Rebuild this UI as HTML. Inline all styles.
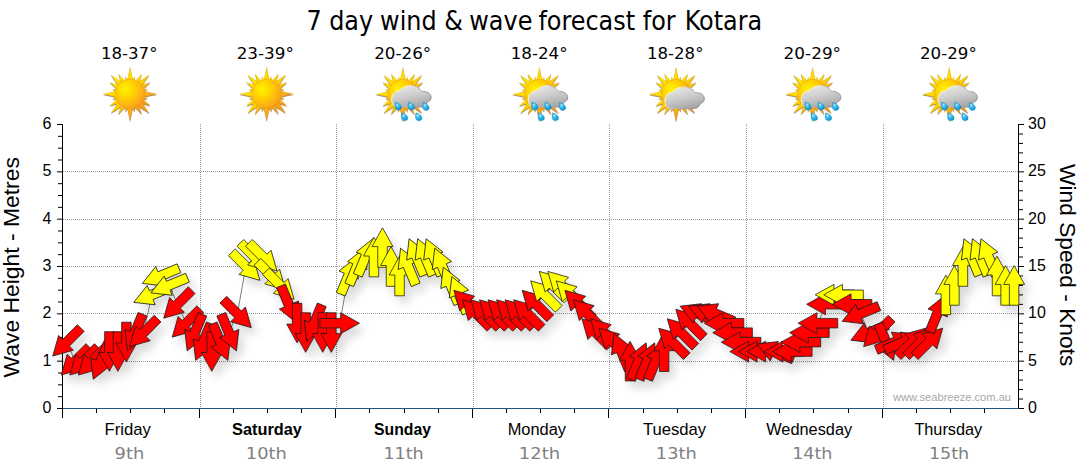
<!DOCTYPE html>
<html><head><meta charset="utf-8"><title>7 day wind &amp; wave forecast for Kotara</title>
<style>html,body{margin:0;padding:0;background:#fff;}svg{display:block}</style></head><body>
<svg width="1080" height="475" viewBox="0 0 1080 475">
<defs>
<radialGradient id="sunG" cx="0.34" cy="0.33" r="0.75">
 <stop offset="0" stop-color="#FFF200"/><stop offset="0.4" stop-color="#FFD200"/><stop offset="0.8" stop-color="#FBAE17"/><stop offset="1" stop-color="#F7941D"/>
</radialGradient>
<linearGradient id="rayG" x1="0.1" y1="0.1" x2="0.9" y2="0.9">
 <stop offset="0" stop-color="#FFE800"/><stop offset="0.45" stop-color="#FFD400"/><stop offset="0.75" stop-color="#F9A51A"/><stop offset="1" stop-color="#F28E1E"/>
</linearGradient>
<linearGradient id="cloudG" x1="0.2" y1="0" x2="0.6" y2="1">
 <stop offset="0" stop-color="#E9E9E9"/><stop offset="0.5" stop-color="#CDCDCD"/><stop offset="1" stop-color="#A6A6A6"/>
</linearGradient>
<linearGradient id="cloudS" x1="0" y1="0" x2="1" y2="0.4">
 <stop offset="0" stop-color="#FFF2A0"/><stop offset="0.3" stop-color="#FFF6C0"/><stop offset="0.55" stop-color="#B8B8B8"/><stop offset="1" stop-color="#8E8E8E"/>
</linearGradient>
<radialGradient id="dropG" cx="0.35" cy="0.35" r="0.75">
 <stop offset="0" stop-color="#BDEBFB"/><stop offset="0.35" stop-color="#3CBCEE"/><stop offset="0.8" stop-color="#119FDB"/><stop offset="1" stop-color="#0A7FB8"/>
</radialGradient>
<filter id="sh" x="-5%" y="-20%" width="110%" height="150%">
 <feGaussianBlur in="SourceAlpha" stdDeviation="4.8"/>
 <feOffset dx="5" dy="7" result="b"/>
 <feComponentTransfer><feFuncA type="linear" slope="0.15"/></feComponentTransfer>
 <feMerge><feMergeNode/><feMergeNode in="SourceGraphic"/></feMerge>
</filter>
<filter id="ish" x="-20%" y="-20%" width="140%" height="140%">
 <feGaussianBlur in="SourceAlpha" stdDeviation="0.6"/>
 <feOffset dx="0.4" dy="0.6"/>
 <feFlood flood-color="#6b3d00"/><feComposite operator="in" in2="SourceAlpha"/>
 <feGaussianBlur stdDeviation="0.6"/><feOffset dx="0.4" dy="0.6"/>
 <feComponentTransfer><feFuncA type="linear" slope="0.6"/></feComponentTransfer>
 <feMerge><feMergeNode/><feMergeNode in="SourceGraphic"/></feMerge>
</filter>

<g id="sun" filter="url(#ish)"><path d="M2.90 -13.80Q1.30 -19.61 0.00 -26.70Q-1.30 -19.61 -2.90 -13.80ZM4.83 -12.99Q4.61 -14.96 4.63 -17.29Q3.48 -15.26 2.32 -13.67ZM8.89 -10.80Q9.91 -15.10 11.60 -20.09Q8.12 -16.13 4.91 -13.10ZM11.67 -7.85Q14.72 -13.00 18.88 -18.88Q13.00 -14.72 7.85 -11.67ZM13.10 -4.91Q16.13 -8.12 20.09 -11.60Q15.10 -9.91 10.80 -8.89ZM13.67 -2.32Q15.26 -3.48 17.29 -4.63Q14.96 -4.61 12.99 -4.83ZM13.80 2.90Q19.61 1.30 26.70 -0.00Q19.61 -1.31 13.80 -2.90ZM12.99 4.83Q14.96 4.61 17.29 4.63Q15.26 3.48 13.67 2.32ZM10.80 8.89Q15.10 9.91 20.09 11.60Q16.13 8.12 13.10 4.91ZM7.85 11.67Q13.00 14.72 18.88 18.88Q14.72 13.00 11.67 7.85ZM4.91 13.10Q8.12 16.13 11.60 20.09Q9.91 15.10 8.89 10.80ZM2.32 13.67Q3.48 15.26 4.63 17.29Q4.61 14.96 4.83 12.99ZM-2.90 13.80Q-1.30 19.61 0.00 26.70Q1.31 19.61 2.90 13.80ZM-4.83 12.99Q-4.61 14.96 -4.63 17.29Q-3.48 15.26 -2.32 13.67ZM-8.89 10.80Q-9.91 15.10 -11.60 20.09Q-8.12 16.13 -4.91 13.10ZM-11.67 7.85Q-14.72 13.00 -18.88 18.88Q-13.00 14.72 -7.85 11.67ZM-13.10 4.91Q-16.13 8.12 -20.09 11.60Q-15.10 9.91 -10.80 8.89ZM-13.67 2.32Q-15.26 3.48 -17.29 4.63Q-14.96 4.61 -12.99 4.83ZM-13.80 -2.90Q-19.61 -1.30 -26.70 0.00Q-19.61 1.31 -13.80 2.90ZM-12.99 -4.83Q-14.96 -4.61 -17.29 -4.63Q-15.26 -3.48 -13.67 -2.32ZM-10.80 -8.89Q-15.10 -9.91 -20.09 -11.60Q-16.13 -8.12 -13.10 -4.91ZM-7.85 -11.67Q-13.00 -14.72 -18.88 -18.88Q-14.72 -13.00 -11.67 -7.85ZM-4.91 -13.10Q-8.12 -16.13 -11.60 -20.09Q-9.91 -15.10 -8.89 -10.80ZM-2.32 -13.67Q-3.48 -15.26 -4.63 -17.29Q-4.61 -14.96 -4.83 -12.99Z" fill="url(#rayG)" stroke="#B8860B" stroke-width="0.35" stroke-opacity="0.55"/><circle r="14.8" fill="url(#sunG)" stroke="#E8920F" stroke-width="0.5" stroke-opacity="0.7"/></g>
<g id="cloud"><path d="M-5.5 12.8 C-9.2 12.8 -11.2 9.6 -11.2 5 C-11.2 0.4 -8.4 -3.2 -4.6 -3.4 C-3.6 -3.5 -2.4 -4.8 -1.2 -5.6 C1.2 -7.6 4.2 -8.7 7.6 -8.7 C12.2 -8.7 15.8 -6.8 17.6 -4.4 C18.6 -3.2 19.8 -2.9 21.2 -2.8 C25.2 -2.5 28.2 0 28.2 3.2 C28.2 5.6 26.6 7.2 24.2 7.8 C23.4 10.8 21.2 12.8 18 12.8 Z" fill="url(#cloudG)" stroke="url(#cloudS)" stroke-width="1"/></g>
<path id="drop" d="M-2.7 -3.9 C-0.6 -3.5 3.3 -1.4 3.3 1.3 C3.3 3 1.9 4.1 0.3 4.1 C-1.6 4.1 -3 2.8 -3.1 0.9 C-3.2 -0.8 -2.9 -2.6 -2.7 -3.9Z" fill="url(#dropG)" stroke="#0C78AE" stroke-width="0.35"/>
<path id="ar" d="M0 -19.7L10.45 -0.9L4.75 -0.9L4.75 19.9L-4.75 19.9L-4.75 -0.9L-10.45 -0.9Z"/>
</defs>
<rect width="1080" height="475" fill="#fff"/>
<text transform="translate(0 29.6) scale(0.985 1)" font-family="'DejaVu Sans Condensed', 'DejaVu Sans', sans-serif" font-size="27" font-stretch="condensed" fill="#000"><tspan x="311.20">7</tspan> <tspan x="334.21">day</tspan> <tspan x="385.89">wind</tspan> <tspan x="450.97">&amp;</tspan> <tspan x="476.42">wave</tspan> <tspan x="546.62">forecast</tspan> <tspan x="652.62">for</tspan> <tspan x="695.09">Kotara</tspan></text>
<text transform="translate(101.05 58.6) scale(1.0754 1)" font-family="'DejaVu Sans', sans-serif" font-size="15.4" fill="#000">18-37°</text>
<use href="#sun" x="130.1" y="94"/>
<text transform="translate(236.67 58.6) scale(1.0909 1)" font-family="'DejaVu Sans', sans-serif" font-size="15.4" fill="#000">23-39°</text>
<use href="#sun" x="266.7" y="94"/>
<text transform="translate(374.17 58.6) scale(1.0888 1)" font-family="'DejaVu Sans', sans-serif" font-size="15.4" fill="#000">20-26°</text>
<use href="#sun" x="402.9" y="94.2"/>
<use href="#cloud" x="402.9" y="94.3"/>
<use href="#drop" x="398.1" y="106.0"/>
<use href="#drop" x="411.3" y="106.0"/>
<use href="#drop" x="425.8" y="106.4"/>
<use href="#drop" x="404.5" y="116.7"/>
<use href="#drop" x="418.6" y="116.7"/>
<text transform="translate(510.64 58.6) scale(1.0856 1)" font-family="'DejaVu Sans', sans-serif" font-size="15.4" fill="#000">18-24°</text>
<use href="#sun" x="539.5" y="94.2"/>
<use href="#cloud" x="539.5" y="94.3"/>
<use href="#drop" x="534.7" y="106.0"/>
<use href="#drop" x="547.9" y="106.0"/>
<use href="#drop" x="562.4" y="106.4"/>
<use href="#drop" x="541.1" y="116.7"/>
<use href="#drop" x="555.2" y="116.7"/>
<text transform="translate(647.05 58.6) scale(1.0754 1)" font-family="'DejaVu Sans', sans-serif" font-size="15.4" fill="#000">18-28°</text>
<use href="#sun" x="676.1" y="94.2"/>
<use href="#cloud" x="676.1" y="95.6"/>
<text transform="translate(783.56 58.6) scale(1.0969 1)" font-family="'DejaVu Sans', sans-serif" font-size="15.4" fill="#000">20-29°</text>
<use href="#sun" x="812.6" y="94.2"/>
<use href="#cloud" x="812.6" y="94.3"/>
<use href="#drop" x="807.9" y="106.0"/>
<use href="#drop" x="821.0" y="106.0"/>
<use href="#drop" x="835.5" y="106.4"/>
<use href="#drop" x="814.2" y="116.7"/>
<use href="#drop" x="828.4" y="116.7"/>
<text transform="translate(919.98 58.6) scale(1.0828 1)" font-family="'DejaVu Sans', sans-serif" font-size="15.4" fill="#000">20-29°</text>
<use href="#sun" x="949.2" y="94.2"/>
<use href="#cloud" x="949.2" y="94.3"/>
<use href="#drop" x="944.4" y="106.0"/>
<use href="#drop" x="957.6" y="106.0"/>
<use href="#drop" x="972.1" y="106.4"/>
<use href="#drop" x="950.8" y="116.7"/>
<use href="#drop" x="964.9" y="116.7"/>
<path d="M200.5 124V408.5M336.5 124V408.5M473.5 124V408.5M609.5 124V408.5M746.5 124V408.5M883.5 124V408.5" stroke="#9a9a9a" stroke-width="1" stroke-dasharray="1 1" fill="none" shape-rendering="crispEdges"/>
<path d="M63 361.5H1018M63 313.5H1018M63 266.5H1018M63 219.5H1018M63 171.5H1018" stroke="#9a9a9a" stroke-width="1" stroke-dasharray="1 1" fill="none" shape-rendering="crispEdges"/>
<path d="M62.5 124.0V418.0" stroke="#000" stroke-width="1" fill="none" shape-rendering="crispEdges"/>
<path d="M57.0 408.50H62.5M58.0 396.67H62.5M58.0 384.83H62.5M58.0 373.00H62.5M57.0 361.17H62.5M58.0 349.33H62.5M58.0 337.50H62.5M58.0 325.67H62.5M57.0 313.83H62.5M58.0 302.00H62.5M58.0 290.17H62.5M58.0 278.33H62.5M57.0 266.50H62.5M58.0 254.67H62.5M58.0 242.83H62.5M58.0 231.00H62.5M57.0 219.17H62.5M58.0 207.33H62.5M58.0 195.50H62.5M58.0 183.67H62.5M57.0 171.83H62.5M58.0 160.00H62.5M58.0 148.17H62.5M58.0 136.33H62.5M57.0 124.50H62.5" stroke="#000" stroke-width="1" fill="none"/>
<text x="51.5" y="413.0" text-anchor="end" font-family="'Liberation Sans', sans-serif" font-size="16" fill="#000">0</text>
<text x="51.5" y="365.7" text-anchor="end" font-family="'Liberation Sans', sans-serif" font-size="16" fill="#000">1</text>
<text x="51.5" y="318.3" text-anchor="end" font-family="'Liberation Sans', sans-serif" font-size="16" fill="#000">2</text>
<text x="51.5" y="271.0" text-anchor="end" font-family="'Liberation Sans', sans-serif" font-size="16" fill="#000">3</text>
<text x="51.5" y="223.7" text-anchor="end" font-family="'Liberation Sans', sans-serif" font-size="16" fill="#000">4</text>
<text x="51.5" y="176.3" text-anchor="end" font-family="'Liberation Sans', sans-serif" font-size="16" fill="#000">5</text>
<text x="51.5" y="129.0" text-anchor="end" font-family="'Liberation Sans', sans-serif" font-size="16" fill="#000">6</text>
<path d="M1018.5 124.0V409.0" stroke="#000" stroke-width="1" fill="none" shape-rendering="crispEdges"/>
<path d="M1018.5 408.50H1024.0M1018.5 399.03H1023.0M1018.5 389.57H1023.0M1018.5 380.10H1023.0M1018.5 370.63H1023.0M1018.5 361.17H1024.0M1018.5 351.70H1023.0M1018.5 342.23H1023.0M1018.5 332.77H1023.0M1018.5 323.30H1023.0M1018.5 313.83H1024.0M1018.5 304.37H1023.0M1018.5 294.90H1023.0M1018.5 285.43H1023.0M1018.5 275.97H1023.0M1018.5 266.50H1024.0M1018.5 257.03H1023.0M1018.5 247.57H1023.0M1018.5 238.10H1023.0M1018.5 228.63H1023.0M1018.5 219.17H1024.0M1018.5 209.70H1023.0M1018.5 200.23H1023.0M1018.5 190.77H1023.0M1018.5 181.30H1023.0M1018.5 171.83H1024.0M1018.5 162.37H1023.0M1018.5 152.90H1023.0M1018.5 143.43H1023.0M1018.5 133.97H1023.0M1018.5 124.50H1024.0" stroke="#000" stroke-width="1" fill="none"/>
<text x="1028" y="413.0" font-family="'Liberation Sans', sans-serif" font-size="16" fill="#000">0</text>
<text x="1028" y="365.7" font-family="'Liberation Sans', sans-serif" font-size="16" fill="#000">5</text>
<text x="1028" y="318.3" font-family="'Liberation Sans', sans-serif" font-size="16" fill="#000">10</text>
<text x="1028" y="271.0" font-family="'Liberation Sans', sans-serif" font-size="16" fill="#000">15</text>
<text x="1028" y="223.7" font-family="'Liberation Sans', sans-serif" font-size="16" fill="#000">20</text>
<text x="1028" y="176.3" font-family="'Liberation Sans', sans-serif" font-size="16" fill="#000">25</text>
<text x="1028" y="129.0" font-family="'Liberation Sans', sans-serif" font-size="16" fill="#000">30</text>
<path d="M62.5 408.5H1018.5" stroke="#1F5582" stroke-width="1" fill="none" shape-rendering="crispEdges"/>
<path d="M96.5 408.5V413.0M130.5 408.5V413.0M164.5 408.5V413.0M199.5 408.5V418.0M233.5 408.5V413.0M267.5 408.5V413.0M301.5 408.5V413.0M335.5 408.5V418.0M369.5 408.5V413.0M404.5 408.5V413.0M438.5 408.5V413.0M472.5 408.5V418.0M506.5 408.5V413.0M540.5 408.5V413.0M574.5 408.5V413.0M608.5 408.5V418.0M643.5 408.5V413.0M677.5 408.5V413.0M711.5 408.5V413.0M745.5 408.5V418.0M779.5 408.5V413.0M813.5 408.5V413.0M848.5 408.5V413.0M882.5 408.5V418.0M916.5 408.5V413.0M950.5 408.5V413.0M984.5 408.5V413.0" stroke="#000" stroke-width="1" fill="none" shape-rendering="crispEdges"/>
<text transform="translate(892.99 400.6) scale(1.0126 1)" font-family="'Liberation Sans', sans-serif" font-size="11" fill="#a8a8a8">www.seabreeze.com.au</text>
<text transform="translate(104.58 434.5) scale(1.0435 1)" font-family="'Liberation Sans', sans-serif" font-size="16" fill="#000">Friday</text>
<text transform="translate(114.62 458.6) scale(1.0813 1)" font-family="'DejaVu Sans', sans-serif" font-size="16.6" fill="#808080">9th</text>
<text transform="translate(232.07 434.5) scale(1.0201 1)" font-family="'Liberation Sans', sans-serif" font-size="16" font-weight="bold" fill="#000">Saturday</text>
<text transform="translate(245.87 458.6) scale(1.0727 1)" font-family="'DejaVu Sans', sans-serif" font-size="16.6" fill="#808080">10th</text>
<text transform="translate(374.10 434.5) scale(0.9854 1)" font-family="'Liberation Sans', sans-serif" font-size="16" font-weight="bold" fill="#000">Sunday</text>
<text transform="translate(383.40 458.6) scale(1.0583 1)" font-family="'DejaVu Sans', sans-serif" font-size="16.6" fill="#808080">11th</text>
<text transform="translate(507.66 434.5) scale(1.0263 1)" font-family="'Liberation Sans', sans-serif" font-size="16" fill="#000">Monday</text>
<text transform="translate(518.86 458.6) scale(1.0798 1)" font-family="'DejaVu Sans', sans-serif" font-size="16.6" fill="#808080">12th</text>
<text transform="translate(642.88 434.5) scale(1.0406 1)" font-family="'Liberation Sans', sans-serif" font-size="16" fill="#000">Tuesday</text>
<text transform="translate(655.87 458.6) scale(1.0727 1)" font-family="'DejaVu Sans', sans-serif" font-size="16.6" fill="#808080">13th</text>
<text transform="translate(766.26 434.5) scale(1.0206 1)" font-family="'Liberation Sans', sans-serif" font-size="16" fill="#000">Wednesday</text>
<text transform="translate(792.15 458.6) scale(1.0583 1)" font-family="'DejaVu Sans', sans-serif" font-size="16.6" fill="#808080">14th</text>
<text transform="translate(914.38 434.5) scale(1.0181 1)" font-family="'Liberation Sans', sans-serif" font-size="16" fill="#000">Thursday</text>
<text transform="translate(928.90 458.6) scale(1.0583 1)" font-family="'DejaVu Sans', sans-serif" font-size="16.6" fill="#808080">15th</text>
<text transform="translate(19.3 377.4) rotate(-90) translate(-0.02 0) scale(1.0080 1)" font-family="'Liberation Sans', sans-serif" font-size="22.7" fill="#000">Wave Height - Metres</text>
<text transform="translate(1059.6 164) rotate(90) translate(-0.02 0) scale(1.0027 1)" font-family="'Liberation Sans', sans-serif" font-size="22.7" fill="#000">Wind Speed - Knots</text>
<polyline points="66.7,342.1 75.2,361.1 83.7,361.1 92.3,361.1 100.8,361.1 109.3,351.6 117.9,351.6 126.4,342.1 135.0,332.7 143.5,332.7 152.0,294.8 160.6,275.9 169.1,285.3 177.6,304.3 186.2,323.2 194.7,332.7 203.2,342.1 211.8,351.6 220.3,342.1 228.8,332.7 237.4,313.7 245.9,266.4 254.5,256.9 263.0,256.9 271.5,275.9 280.1,285.3 288.6,304.3 297.1,323.2 305.7,332.7 314.2,323.2 322.7,332.7 331.3,332.7 339.8,323.2 348.3,275.9 356.9,266.4 365.4,256.9 374.0,256.9 382.5,247.5 391.0,266.4 399.6,275.9 408.1,266.4 416.6,256.9 425.2,256.9 433.7,256.9 442.2,266.4 450.8,285.3 459.3,294.8 467.8,304.3 476.4,313.7 484.9,313.7 493.5,313.7 502.0,313.7 510.5,313.7 519.1,313.7 527.6,313.7 536.1,304.3 544.7,294.8 553.2,285.3 561.7,285.3 570.3,294.8 578.8,304.3 587.3,313.7 595.9,332.7 604.4,332.7 613.0,342.1 621.5,351.6 630.0,361.1 638.6,361.1 647.1,361.1 655.6,361.1 664.2,351.6 672.7,342.1 681.2,332.7 689.8,323.2 698.3,313.7 706.8,313.7 715.4,313.7 723.9,323.2 732.5,332.7 741.0,342.1 749.5,351.6 758.1,351.6 766.6,351.6 775.1,351.6 783.7,351.6 792.2,351.6 800.7,342.1 809.3,332.7 817.8,323.2 826.3,304.3 834.9,294.8 843.4,294.8 852.0,304.3 860.5,313.7 869.0,332.7 877.6,332.7 886.1,342.1 894.6,342.1 903.2,342.1 911.7,342.1 920.2,342.1 928.8,342.1 937.3,313.7 945.8,294.8 954.4,285.3 962.9,266.4 971.5,256.9 980.0,256.9 988.5,256.9 997.1,275.9 1005.6,285.3 1014.1,285.3" fill="none" stroke="#808080" stroke-width="1"/>
<g filter="url(#sh)" stroke="#1a1a1a" stroke-width="0.75" stroke-linejoin="miter">
<use href="#ar" transform="translate(66.67 342.13) rotate(225)" fill="#FF0000"/>
<use href="#ar" transform="translate(75.20 361.07) rotate(225)" fill="#FF0000"/>
<use href="#ar" transform="translate(83.74 361.07) rotate(225)" fill="#FF0000"/>
<use href="#ar" transform="translate(92.28 361.07) rotate(225)" fill="#FF0000"/>
<use href="#ar" transform="translate(100.81 361.07) rotate(202.5)" fill="#FF0000"/>
<use href="#ar" transform="translate(109.35 351.60) rotate(180)" fill="#FF0000"/>
<use href="#ar" transform="translate(117.88 351.60) rotate(180)" fill="#FF0000"/>
<use href="#ar" transform="translate(126.42 342.13) rotate(180)" fill="#FF0000"/>
<use href="#ar" transform="translate(134.95 332.67) rotate(202.5)" fill="#FF0000"/>
<use href="#ar" transform="translate(143.49 332.67) rotate(225)" fill="#FF0000"/>
<use href="#ar" transform="translate(152.03 294.80) rotate(247.5)" fill="#FFFF00"/>
<use href="#ar" transform="translate(160.56 275.87) rotate(247.5)" fill="#FFFF00"/>
<use href="#ar" transform="translate(169.10 285.33) rotate(247.5)" fill="#FFFF00"/>
<use href="#ar" transform="translate(177.63 304.27) rotate(225)" fill="#FF0000"/>
<use href="#ar" transform="translate(186.17 323.20) rotate(225)" fill="#FF0000"/>
<use href="#ar" transform="translate(194.70 332.67) rotate(202.5)" fill="#FF0000"/>
<use href="#ar" transform="translate(203.24 342.13) rotate(202.5)" fill="#FF0000"/>
<use href="#ar" transform="translate(211.78 351.60) rotate(180)" fill="#FF0000"/>
<use href="#ar" transform="translate(220.31 342.13) rotate(157.5)" fill="#FF0000"/>
<use href="#ar" transform="translate(228.85 332.67) rotate(157.5)" fill="#FF0000"/>
<use href="#ar" transform="translate(237.38 313.73) rotate(135)" fill="#FF0000"/>
<use href="#ar" transform="translate(245.92 266.40) rotate(135)" fill="#FFFF00"/>
<use href="#ar" transform="translate(254.45 256.93) rotate(135)" fill="#FFFF00"/>
<use href="#ar" transform="translate(262.99 256.93) rotate(135)" fill="#FFFF00"/>
<use href="#ar" transform="translate(271.53 275.87) rotate(135)" fill="#FFFF00"/>
<use href="#ar" transform="translate(280.06 285.33) rotate(135)" fill="#FFFF00"/>
<use href="#ar" transform="translate(288.60 304.27) rotate(157.5)" fill="#FF0000"/>
<use href="#ar" transform="translate(297.13 323.20) rotate(180)" fill="#FF0000"/>
<use href="#ar" transform="translate(305.67 332.67) rotate(180)" fill="#FF0000"/>
<use href="#ar" transform="translate(314.20 323.20) rotate(202.5)" fill="#FF0000"/>
<use href="#ar" transform="translate(322.74 332.67) rotate(180)" fill="#FF0000"/>
<use href="#ar" transform="translate(331.27 332.67) rotate(180)" fill="#FF0000"/>
<use href="#ar" transform="translate(339.81 323.20) rotate(90)" fill="#FF0000"/>
<use href="#ar" transform="translate(348.35 275.87) rotate(22.5)" fill="#FFFF00"/>
<use href="#ar" transform="translate(356.88 266.40) rotate(22.5)" fill="#FFFF00"/>
<use href="#ar" transform="translate(365.42 256.93) rotate(22.5)" fill="#FFFF00"/>
<use href="#ar" transform="translate(373.95 256.93) rotate(0)" fill="#FFFF00"/>
<use href="#ar" transform="translate(382.49 247.47) rotate(0)" fill="#FFFF00"/>
<use href="#ar" transform="translate(391.03 266.40) rotate(0)" fill="#FFFF00"/>
<use href="#ar" transform="translate(399.56 275.87) rotate(0)" fill="#FFFF00"/>
<use href="#ar" transform="translate(408.10 266.40) rotate(337.5)" fill="#FFFF00"/>
<use href="#ar" transform="translate(416.63 256.93) rotate(337.5)" fill="#FFFF00"/>
<use href="#ar" transform="translate(425.17 256.93) rotate(337.5)" fill="#FFFF00"/>
<use href="#ar" transform="translate(433.70 256.93) rotate(337.5)" fill="#FFFF00"/>
<use href="#ar" transform="translate(442.24 266.40) rotate(337.5)" fill="#FFFF00"/>
<use href="#ar" transform="translate(450.78 285.33) rotate(337.5)" fill="#FFFF00"/>
<use href="#ar" transform="translate(459.31 294.80) rotate(337.5)" fill="#FFFF00"/>
<use href="#ar" transform="translate(467.85 304.27) rotate(315)" fill="#FF0000"/>
<use href="#ar" transform="translate(476.38 313.73) rotate(315)" fill="#FF0000"/>
<use href="#ar" transform="translate(484.92 313.73) rotate(315)" fill="#FF0000"/>
<use href="#ar" transform="translate(493.45 313.73) rotate(315)" fill="#FF0000"/>
<use href="#ar" transform="translate(501.99 313.73) rotate(315)" fill="#FF0000"/>
<use href="#ar" transform="translate(510.53 313.73) rotate(315)" fill="#FF0000"/>
<use href="#ar" transform="translate(519.06 313.73) rotate(315)" fill="#FF0000"/>
<use href="#ar" transform="translate(527.60 313.73) rotate(315)" fill="#FF0000"/>
<use href="#ar" transform="translate(536.13 304.27) rotate(315)" fill="#FF0000"/>
<use href="#ar" transform="translate(544.67 294.80) rotate(315)" fill="#FFFF00"/>
<use href="#ar" transform="translate(553.20 285.33) rotate(315)" fill="#FFFF00"/>
<use href="#ar" transform="translate(561.74 285.33) rotate(315)" fill="#FFFF00"/>
<use href="#ar" transform="translate(570.28 294.80) rotate(315)" fill="#FFFF00"/>
<use href="#ar" transform="translate(578.81 304.27) rotate(315)" fill="#FF0000"/>
<use href="#ar" transform="translate(587.35 313.73) rotate(315)" fill="#FF0000"/>
<use href="#ar" transform="translate(595.88 332.67) rotate(315)" fill="#FF0000"/>
<use href="#ar" transform="translate(604.42 332.67) rotate(315)" fill="#FF0000"/>
<use href="#ar" transform="translate(612.95 342.13) rotate(315)" fill="#FF0000"/>
<use href="#ar" transform="translate(621.49 351.60) rotate(337.5)" fill="#FF0000"/>
<use href="#ar" transform="translate(630.02 361.07) rotate(0)" fill="#FF0000"/>
<use href="#ar" transform="translate(638.56 361.07) rotate(22.5)" fill="#FF0000"/>
<use href="#ar" transform="translate(647.10 361.07) rotate(22.5)" fill="#FF0000"/>
<use href="#ar" transform="translate(655.63 361.07) rotate(22.5)" fill="#FF0000"/>
<use href="#ar" transform="translate(664.17 351.60) rotate(0)" fill="#FF0000"/>
<use href="#ar" transform="translate(672.70 342.13) rotate(315)" fill="#FF0000"/>
<use href="#ar" transform="translate(681.24 332.67) rotate(315)" fill="#FF0000"/>
<use href="#ar" transform="translate(689.77 323.20) rotate(315)" fill="#FF0000"/>
<use href="#ar" transform="translate(698.31 313.73) rotate(292.5)" fill="#FF0000"/>
<use href="#ar" transform="translate(706.85 313.73) rotate(292.5)" fill="#FF0000"/>
<use href="#ar" transform="translate(715.38 313.73) rotate(292.5)" fill="#FF0000"/>
<use href="#ar" transform="translate(723.92 323.20) rotate(270)" fill="#FF0000"/>
<use href="#ar" transform="translate(732.45 332.67) rotate(270)" fill="#FF0000"/>
<use href="#ar" transform="translate(740.99 342.13) rotate(270)" fill="#FF0000"/>
<use href="#ar" transform="translate(749.53 351.60) rotate(270)" fill="#FF0000"/>
<use href="#ar" transform="translate(758.06 351.60) rotate(270)" fill="#FF0000"/>
<use href="#ar" transform="translate(766.60 351.60) rotate(270)" fill="#FF0000"/>
<use href="#ar" transform="translate(775.13 351.60) rotate(292.5)" fill="#FF0000"/>
<use href="#ar" transform="translate(783.67 351.60) rotate(270)" fill="#FF0000"/>
<use href="#ar" transform="translate(792.20 351.60) rotate(270)" fill="#FF0000"/>
<use href="#ar" transform="translate(800.74 342.13) rotate(270)" fill="#FF0000"/>
<use href="#ar" transform="translate(809.28 332.67) rotate(270)" fill="#FF0000"/>
<use href="#ar" transform="translate(817.81 323.20) rotate(270)" fill="#FF0000"/>
<use href="#ar" transform="translate(826.35 304.27) rotate(270)" fill="#FF0000"/>
<use href="#ar" transform="translate(834.88 294.80) rotate(270)" fill="#FFFF00"/>
<use href="#ar" transform="translate(843.42 294.80) rotate(270)" fill="#FFFF00"/>
<use href="#ar" transform="translate(851.95 304.27) rotate(270)" fill="#FF0000"/>
<use href="#ar" transform="translate(860.49 313.73) rotate(247.5)" fill="#FF0000"/>
<use href="#ar" transform="translate(869.03 332.67) rotate(247.5)" fill="#FF0000"/>
<use href="#ar" transform="translate(877.56 332.67) rotate(225)" fill="#FF0000"/>
<use href="#ar" transform="translate(886.10 342.13) rotate(157.5)" fill="#FF0000"/>
<use href="#ar" transform="translate(894.63 342.13) rotate(67.5)" fill="#FF0000"/>
<use href="#ar" transform="translate(903.17 342.13) rotate(67.5)" fill="#FF0000"/>
<use href="#ar" transform="translate(911.70 342.13) rotate(45)" fill="#FF0000"/>
<use href="#ar" transform="translate(920.24 342.13) rotate(45)" fill="#FF0000"/>
<use href="#ar" transform="translate(928.78 342.13) rotate(45)" fill="#FF0000"/>
<use href="#ar" transform="translate(937.31 313.73) rotate(22.5)" fill="#FF0000"/>
<use href="#ar" transform="translate(945.85 294.80) rotate(0)" fill="#FFFF00"/>
<use href="#ar" transform="translate(954.38 285.33) rotate(0)" fill="#FFFF00"/>
<use href="#ar" transform="translate(962.92 266.40) rotate(0)" fill="#FFFF00"/>
<use href="#ar" transform="translate(971.45 256.93) rotate(337.5)" fill="#FFFF00"/>
<use href="#ar" transform="translate(979.99 256.93) rotate(337.5)" fill="#FFFF00"/>
<use href="#ar" transform="translate(988.53 256.93) rotate(337.5)" fill="#FFFF00"/>
<use href="#ar" transform="translate(997.06 275.87) rotate(0)" fill="#FFFF00"/>
<use href="#ar" transform="translate(1005.60 285.33) rotate(0)" fill="#FFFF00"/>
<use href="#ar" transform="translate(1014.13 285.33) rotate(0)" fill="#FFFF00"/>
</g>
</svg></body></html>
